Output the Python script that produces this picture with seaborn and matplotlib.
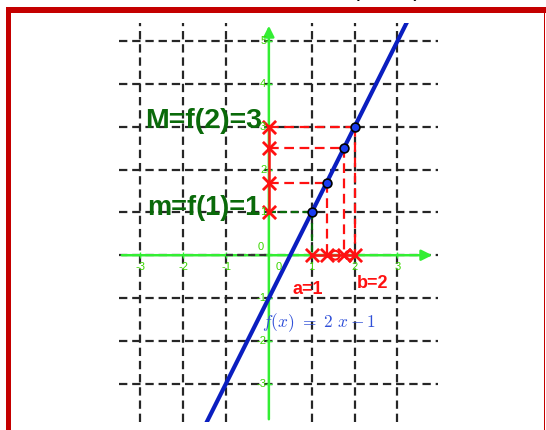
import numpy as np
import matplotlib.pyplot as plt
import seaborn as sns
from matplotlib.patches import Rectangle

sns.set_style("white")
plt.rcParams['font.family'] = ['Liberation Sans', 'DejaVu Sans']
plt.rcParams['mathtext.fontset'] = 'cm'
plt.rcParams['lines.scale_dashes'] = False

# ---- data ----
line_x = [-1.5, 3.25]            # f(x) = 2x - 1, ends leave the view
line_y = [-4.0, 5.5]
pts_x = [1, 1.35, 1.75, 2]       # points on the line
pts_y = [1, 1.7, 2.5, 3]
axis_marks_x = [1, 1.35, 1.75, 2]
axis_circles_x = [1.55, 1.88]
grid_x = [-3, -2, -1, 1, 2, 3]
grid_y = [-3, -2, -1, 0, 1, 2, 3, 4, 5]
xtick_labels = ['-3', '-2', '-1', '1', '2', '3']
ytick_vals = [-3, -2, -1, 1, 2, 3, 4, 5]

GREEN = '#33ee33'
TICKGREEN = '#3ad600'
DKGREEN = '#0a6a0a'
RED = '#ff1111'
BLUE = '#0a1ec0'

fig = plt.figure(figsize=(5.46, 4.30), dpi=100)
ax = fig.add_axes([119 / 546, 1 - 422 / 430, 319 / 546, 399 / 430])
ax.set_xlim(-3.5, 3.95)
ax.set_ylim(-3.9, 5.43)
ax.axis('off')

# dashed grid
grid_ls = (0, (6, 3.5))
ax.hlines(grid_y, -3.5, 3.95, colors='#262626', linewidth=1.6, linestyles=[grid_ls], zorder=1)
ax.vlines(grid_x, -3.9, 5.43, colors='#262626', linewidth=1.6, linestyles=[grid_ls], zorder=1)

# green axes with arrows
ax.annotate('', xy=(3.88, 0), xytext=(-3.5, 0),
            arrowprops=dict(arrowstyle='-|>', color=GREEN, lw=1.8, mutation_scale=16), zorder=2)
ax.annotate('', xy=(0, 5.43), xytext=(0, -3.9),
            arrowprops=dict(arrowstyle='-|>', color=GREEN, lw=1.8, mutation_scale=16), zorder=2)
ax.plot(grid_x, [0] * len(grid_x), linestyle='none', marker='|', color=GREEN, ms=5, mew=1, zorder=2)
ax.plot([0] * len(ytick_vals), ytick_vals, linestyle='none', marker='_', color=GREEN, ms=5, mew=1, zorder=2)
for xv, lab in zip(grid_x, xtick_labels):
    ax.text(xv, -0.27, lab, color=TICKGREEN, fontsize=8, ha='center', va='center', zorder=8)
for yv in ytick_vals:
    ax.text(-0.06, yv, str(yv), color=TICKGREEN, fontsize=8, ha='right', va='center', zorder=8)
ax.text(0.23, -0.27, '0', color=TICKGREEN, fontsize=8, ha='center', va='center', zorder=8)
ax.text(-0.18, 0.2, '0', color=TICKGREEN, fontsize=8, ha='center', va='center', zorder=8)

# dark green guides to m = f(1)
dk_ls = (0, (5, 3))
ax.plot([0, 1], [1, 1], color=DKGREEN, lw=1.6, linestyle=dk_ls, zorder=3)
ax.plot([1, 1], [1, 0], color=DKGREEN, lw=1.6, linestyle=dk_ls, zorder=3)
ax.plot([-1, 0], [0, 0], color='#333333', lw=1.6, linestyle=dk_ls, zorder=3)

# red projections
red_ls = (0, (7, 4))
for px, py in zip(pts_x[1:], pts_y[1:]):
    ax.plot([0, px], [py, py], color=RED, lw=1.6, linestyle=red_ls, zorder=3)
    ax.plot([px, px], [py, 0], color=RED, lw=1.6, linestyle=red_ls, zorder=3)
ax.plot([0, 0], [min(pts_y), max(pts_y)], color=RED, lw=1.8, zorder=3)
ax.plot([min(axis_marks_x), max(axis_marks_x)], [0, 0], color=RED, lw=1.8, zorder=3)

# function line
sns.lineplot(x=line_x, y=line_y, color=BLUE, linewidth=3, ax=ax, zorder=4)

# crosses on axes
sns.scatterplot(x=[0] * len(pts_y), y=pts_y, marker='x', color=RED, s=90, linewidth=2, ax=ax, zorder=5)
sns.scatterplot(x=axis_marks_x, y=[0] * len(axis_marks_x), marker='x', color=RED, s=90, linewidth=2, ax=ax, zorder=5)
sns.scatterplot(x=axis_circles_x, y=[0] * len(axis_circles_x), marker='o', facecolor='none',
                edgecolor=RED, s=40, linewidth=1.5, ax=ax, zorder=5)

# points on the line
sns.scatterplot(x=pts_x, y=pts_y, color='#1a3cf0', edgecolor='black', s=40, linewidth=1.2, ax=ax, zorder=6)

# labels
ax.text(-2.9, 2.97, 'M=f(2)=3', color=DKGREEN, fontsize=20.5, fontweight='bold', va='baseline', zorder=7)
ax.text(-2.85, 0.94, 'm=f(1)=1', color=DKGREEN, fontsize=19.5, fontweight='bold', va='baseline', zorder=7)
ax.text(0.56, -0.91, 'a=1', color=RED, fontsize=13, fontweight='bold', va='baseline', zorder=7)
ax.text(2.06, -0.77, 'b=2', color=RED, fontsize=13, fontweight='bold', va='baseline', zorder=7)
ax.text(-0.16, -1.57, r'$f(x)\ =\ 2\ x - 1$', color='#3050d8', fontsize=12.5, va='center', zorder=7)

# red frame of the screenshot
fig.add_artist(Rectangle((6 / 546, 0), 5 / 546, 423 / 430, transform=fig.transFigure, color='#c40000', lw=0))
fig.add_artist(Rectangle((6 / 546, 417 / 430), 540 / 546, 6 / 430, transform=fig.transFigure, color='#c40000', lw=0))
fig.add_artist(Rectangle((543.5 / 546, 0), 1.5 / 546, 423 / 430, transform=fig.transFigure, color='#c40000', lw=0))

# text cut off above the frame
fig.text(430 / 546, 1.024, '(2 − 1)  =  1   1', fontsize=17, ha='center', va='center', color='black')

fig.savefig('out.png', dpi=100)
